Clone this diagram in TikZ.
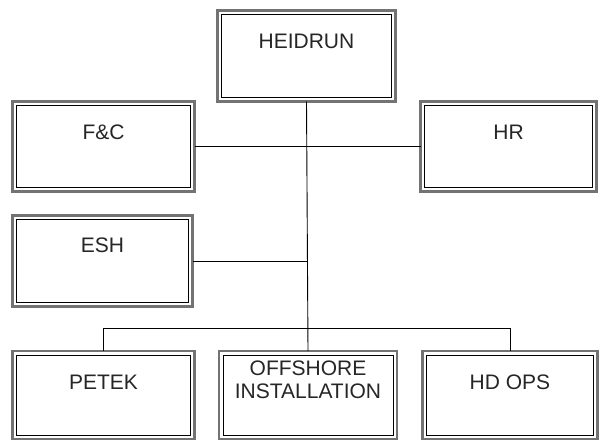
\documentclass[tikz,border=0pt]{standalone}
\usepackage{fontspec}
\setmainfont{Liberation Sans}
\begin{document}
\begin{tikzpicture}[x=1pt,y=-1pt,
  orgbox/.style={draw=black!55, line width=2.6pt, fill=white, inner sep=0pt, outer sep=0pt},
  innerrim/.style={draw=black, line width=0.9pt},
  lbl/.style={font=\fontsize{21}{23}\selectfont, text=black!85, align=center, inner sep=0pt},
  conn/.style={draw=black, line width=0.9pt}
]
\useasboundingbox[fill=white] (0,0) rectangle (600,441);
% boxes
\node[orgbox, minimum width=178pt, minimum height=91pt] (heid) at (306.5,56) {};
\node[orgbox, minimum width=182pt, minimum height=90pt] (fc)   at (103.5,146.5) {};
\node[orgbox, minimum width=176pt, minimum height=90pt] (hr)   at (508.5,146.5) {};
\node[orgbox, minimum width=180pt, minimum height=91pt] (esh)  at (102.5,261) {};
\node[orgbox, minimum width=182pt, minimum height=88pt] (petek) at (103.5,395) {};
\node[orgbox, minimum width=178pt, minimum height=88pt] (off)  at (308,395) {};
\node[orgbox, minimum width=175pt, minimum height=88pt] (hdops) at (510,395) {};
\foreach \b in {heid,fc,hr,esh,petek,off,hdops}{
  \draw[innerrim] ([shift={(4,4)}]\b.north west) rectangle ([shift={(-4,-4)}]\b.south east);
}
% labels
\node[lbl] (heidl) at ([yshift=-31pt]heid.north) {HEIDRUN};
\node[lbl] (fcl) at ([yshift=-31pt]fc.north) {F\&C};
\node[lbl] (hrl) at ([yshift=-31pt]hr.north) {HR};
\node[lbl] (eshl) at ([yshift=-30pt]esh.north) {ESH};
\node[lbl] (petekl) at ([yshift=-31pt]petek.north) {PETEK};
\node[lbl] (offl) at ([yshift=-29pt]off.north) {OFFSHORE\\INSTALLATION};
\node[lbl] (hdopsl) at ([yshift=-31pt]hdops.north) {HD OPS};
% connectors
\coordinate (bus) at (308,328);
\draw[conn] (heid.south) -- (off.north);
\draw[conn] (fc.east) -- (hr.west);
\draw[conn] (esh.east) -- (esh.east -| heid.south);
\draw[conn] (petek.north) -- (petek.north |- bus) -- (hdops.north |- bus) -- (hdops.north);
\end{tikzpicture}
\end{document}
